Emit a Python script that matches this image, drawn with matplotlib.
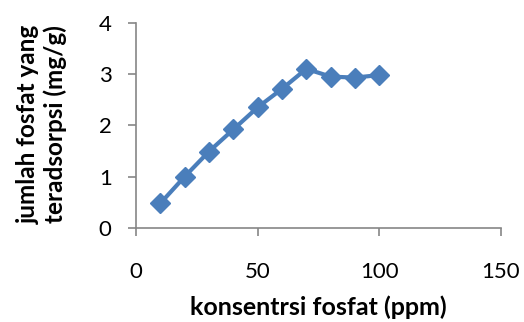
import matplotlib.pyplot as plt

plt.rcParams['font.family'] = ['Lato', 'DejaVu Sans']

# konsentrasi awal (ppm) dan fosfat teradsorpsi (mg/g)
konsentrasi = [10, 20, 30, 40, 50, 60, 70, 80, 90, 100]
teradsorpsi = [0.48, 1.0, 1.49, 1.92, 2.35, 2.71, 3.1, 2.95, 2.93, 2.98]

xticks = [0, 50, 100, 150]
yticks = [0, 1, 2, 3, 4]

biru = '#4a7ebb'
abu = '#868686'

fig = plt.figure(figsize=(5.24, 3.22), dpi=100)
ax = fig.add_axes([0.2595, 0.292, 0.6965, 0.6375])
ax.plot(konsentrasi, teradsorpsi, color=biru, lw=3, marker='D', ms=10,
        mec=biru, mfc=biru)

ax.set_xlim(0, 150)
ax.set_ylim(0, 4)
ax.set_xticks(xticks)
ax.set_yticks(yticks)

for s in ['top', 'right']:
    ax.spines[s].set_visible(False)
for s in ['left', 'bottom']:
    ax.spines[s].set_color(abu)
    ax.spines[s].set_linewidth(1.2)
ax.tick_params(direction='out', length=5.5, width=1.2, color=abu,
               labelsize=16, labelcolor='black')
ax.tick_params(axis='x', pad=19)
ax.tick_params(axis='y', pad=12)

ax.set_xlabel('konsentrsi fosfat (ppm)', fontsize=18, fontweight='bold')
ax.xaxis.set_label_coords(0.5, -0.33)
ax.set_ylabel('jumlah fosfat yang\nteradsorpsi (mg/g)', fontsize=17.5,
              fontweight='bold', linespacing=1.15)
ax.yaxis.set_label_coords(-0.19, 0.506)

fig.savefig('out.png', dpi=100)
